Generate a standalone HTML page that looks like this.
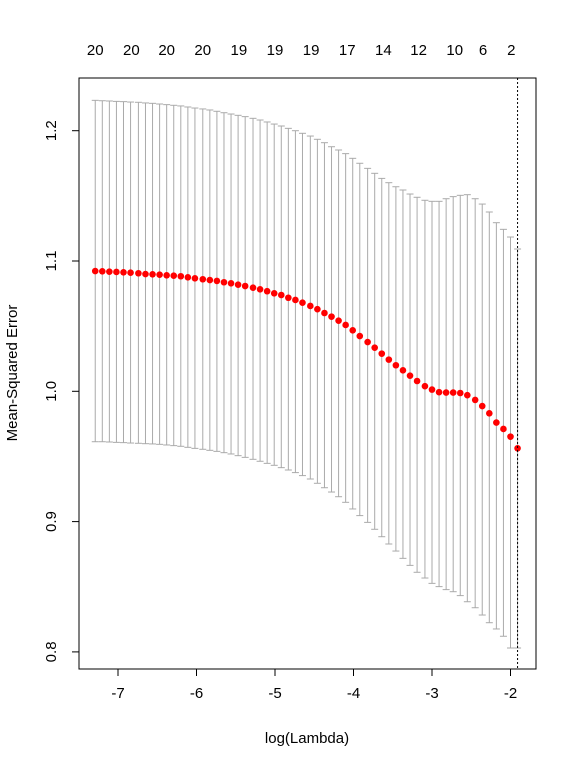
<!DOCTYPE html>
<html><head><meta charset="utf-8"><style>
html,body{margin:0;padding:0;background:#fff;}
svg{display:block;font-family:"Liberation Sans",Arial,sans-serif;}
</style></head><body>
<svg id="chart" width="576" height="768" viewBox="0 0 576 768" xmlns="http://www.w3.org/2000/svg">
<rect x="0" y="0" width="576" height="768" fill="#fff"/>
<g id="bars"></g>
<g id="pts"></g>
<g id="axes"></g>
<rect x="79" y="78" width="457" height="591" fill="none" stroke="#000" stroke-width="1"/>
<text x="307" y="743" font-size="15" text-anchor="middle">log(Lambda)</text>
<text transform="translate(17,373) rotate(-90)" font-size="15" text-anchor="middle">Mean-Squared Error</text>
</svg>
<script>
const logLambda=[-7.29,-7.20,-7.11,-7.02,-6.93,-6.84,-6.74,-6.65,-6.56,-6.47,
-6.38,-6.29,-6.20,-6.11,-6.02,-5.92,-5.83,-5.74,-5.65,-5.56,
-5.47,-5.38,-5.28,-5.19,-5.10,-5.01,-4.92,-4.83,-4.74,-4.65,
-4.55,-4.46,-4.37,-4.28,-4.19,-4.10,-4.01,-3.92,-3.82,-3.73,
-3.64,-3.55,-3.46,-3.37,-3.28,-3.19,-3.09,-3.00,-2.91,-2.82,
-2.73,-2.64,-2.55,-2.45,-2.36,-2.27,-2.18,-2.09,-2.00,-1.91];
const cvm=[1.0923,1.0921,1.0918,1.0916,1.0913,1.0910,1.0906,1.0900,1.0898,1.0895,
1.0890,1.0887,1.0883,1.0875,1.0867,1.0860,1.0854,1.0847,1.0837,1.0829,
1.0818,1.0808,1.0795,1.0783,1.0768,1.0752,1.0739,1.0718,1.0701,1.0680,
1.0655,1.0630,1.0601,1.0573,1.0542,1.0509,1.0468,1.0424,1.0378,1.0335,
1.0289,1.0243,1.0200,1.0161,1.0120,1.0079,1.0039,1.0013,0.9993,0.9990,
0.9990,0.9987,0.9970,0.9934,0.9887,0.9831,0.9760,0.9711,0.9652,0.9563];
const cvup=[1.2233,1.2230,1.2228,1.2225,1.2223,1.2220,1.2218,1.2213,1.2210,1.2205,
1.2200,1.2195,1.2190,1.2182,1.2174,1.2167,1.2159,1.2149,1.2138,1.2128,
1.2118,1.2108,1.2095,1.2082,1.2067,1.2051,1.2036,1.2018,1.2000,1.1980,
1.1959,1.1934,1.1908,1.1877,1.1852,1.1824,1.1788,1.1750,1.1711,1.1673,
1.1634,1.1601,1.1570,1.1545,1.1514,1.1489,1.1466,1.1458,1.1458,1.1478,
1.1494,1.1504,1.1509,1.1478,1.1437,1.1376,1.1294,1.1243,1.1184,1.1092];
const cvlo=[0.9613,0.9613,0.9611,0.9608,0.9606,0.9603,0.9601,0.9598,0.9596,0.9593,
0.9588,0.9583,0.9578,0.9570,0.9562,0.9555,0.9547,0.9539,0.9529,0.9519,
0.9506,0.9493,0.9478,0.9463,0.9447,0.9432,0.9414,0.9396,0.9376,0.9353,
0.9327,0.9294,0.9260,0.9227,0.9191,0.9148,0.9097,0.9046,0.8994,0.8941,
0.8884,0.8828,0.8774,0.8718,0.8664,0.8611,0.8567,0.8526,0.8501,0.8478,
0.8462,0.8432,0.8385,0.8339,0.8283,0.8224,0.8176,0.8120,0.8030,0.8030];
const xTicks=[-7,-6,-5,-4,-3,-2];
const yTicks=[0.8,0.9,1.0,1.1,1.2];
const topTickPos=[-7.29,-6.83,-6.38,-5.92,-5.46,-5.00,-4.54,-4.08,-3.62,-3.17,-2.71,-2.35,-1.99];
const topTickLabels=["20","20","20","20","19","19","19","17","14","12","10","6","2"];
const lambdaMin=-1.91;

function X(v){return 118+(v+7)*78.5;}
function Y(v){return 261-(v-1.1)*1303;}
const NS="http://www.w3.org/2000/svg";
function mk(tag,attrs,parent){const e=document.createElementNS(NS,tag);for(const k in attrs)e.setAttribute(k,attrs[k]);parent.appendChild(e);return e;}
const bars=document.getElementById('bars'),pts=document.getElementById('pts'),axes=document.getElementById('axes');
for(let i=0;i<logLambda.length;i++){
  const x=X(logLambda[i]),yu=Y(cvup[i]),yl=Y(cvlo[i]);
  const g=mk('g',{stroke:'#aaaaaa','stroke-width':1},bars);
  
  
  mk('line',{x1:x,x2:x,y1:yu,y2:yl},g);
  mk('line',{x1:x-3.5,x2:x+3.5,y1:yu,y2:yu},g);
  mk('line',{x1:x-3.5,x2:x+3.5,y1:yl,y2:yl},g);
  const c=mk('circle',{cx:x,cy:Y(cvm[i]),r:3.3,fill:'#ff0000'},pts);
  
  
}
const vl=mk('line',{x1:X(lambdaMin),x2:X(lambdaMin),y1:78,y2:669,stroke:'#000','stroke-width':1,'stroke-dasharray':'2,2'},axes);


mk('line',{x1:X(-7),x2:X(-2),y1:669,y2:669,stroke:'#000'},axes);
xTicks.forEach(v=>{
  const x=X(v);
  mk('line',{x1:x,x2:x,y1:669,y2:676,stroke:'#000'},axes);
  const t=mk('text',{x:x,y:698,'font-size':15,'text-anchor':'middle'},axes);
  
  
  t.textContent=String(v);
});
yTicks.forEach(v=>{
  const y=Y(v);
  mk('line',{x1:72,x2:79,y1:y,y2:y,stroke:'#000'},axes);
  const t=mk('text',{transform:'translate(56,'+y+') rotate(-90)','font-size':15,'text-anchor':'middle'},axes);
  
  
  t.textContent=v.toFixed(1);
});
topTickPos.forEach((v,i)=>{
  const t=mk('text',{x:X(v),y:55,'font-size':15,'text-anchor':'middle'},axes);
  
  
  t.textContent=topTickLabels[i];
});
</script>
</body></html>
